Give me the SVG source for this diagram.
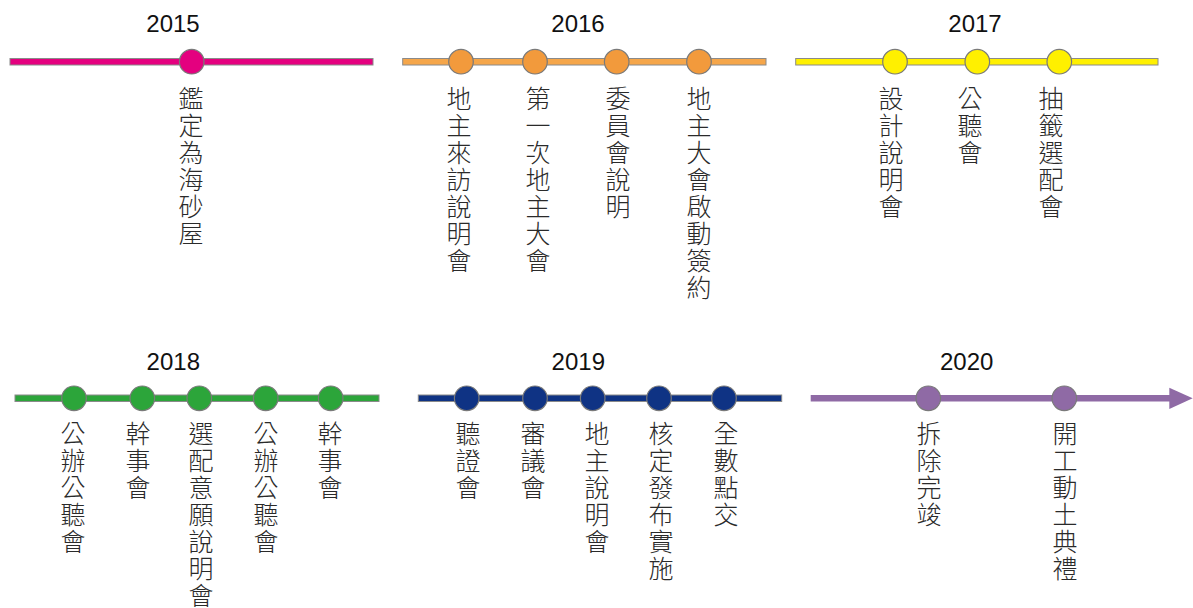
<svg xmlns="http://www.w3.org/2000/svg" width="1193" height="608" viewBox="0 0 1193 608">
<style>
.bar{stroke:#8a8a8a;stroke-width:1}
.dot{stroke:#7a7a7a;stroke-width:1.2}
.yr{font-family:"Liberation Sans",Arial,sans-serif;font-size:24px;fill:#111;text-anchor:middle}
.lbl{font-family:"Noto Sans CJK TC","Noto Sans CJK SC",sans-serif;font-size:25px;font-weight:300;fill:#2a2a2a;writing-mode:vertical-rl;text-orientation:upright;letter-spacing:2px}
.c15{fill:#E4007F}.c16{fill:#F29A3C}.c17{fill:#FFF000}.c18{fill:#2CA53A}.c19{fill:#0F3384}.c20{fill:#8F6AA5}
</style>
<rect width="1193" height="608" fill="#fff"/>
<g id="connectors">
<rect class="bar c15" x="10" y="58.5" width="363" height="6.5"/>
<rect class="bar" x="402.7" y="58.5" width="363.3" height="6.5" fill="#F5A64A"/>
<rect class="bar c17" x="795.7" y="58.5" width="362.3" height="6.5"/>
<rect class="bar c18" x="15" y="395" width="364" height="6.5"/>
<rect class="bar c19" x="418.3" y="395" width="363.4" height="6.5"/>
<rect class="c20" x="810.7" y="395" width="360" height="6.5"/>
<polygon class="c20" points="1169.3,387.7 1192.7,398.3 1169.3,409"/>
</g>
<g id="y2015">
<text class="yr" x="173" y="31.5">2015</text>
<circle class="dot c15" cx="191.7" cy="61.7" r="12.3"/>
<text class="lbl" x="191" y="86">鑑定為海砂屋</text>
</g>
<g id="y2016">
<text class="yr" x="578" y="31.5">2016</text>
<circle class="dot c16" cx="461" cy="61.7" r="12.3"/>
<circle class="dot c16" cx="535" cy="61.7" r="12.3"/>
<circle class="dot c16" cx="616.7" cy="61.7" r="12.3"/>
<circle class="dot c16" cx="699" cy="61.7" r="12.3"/>
<text class="lbl" x="459" y="86">地主來訪說明會</text>
<text class="lbl" x="538" y="86">第一次地主大會</text>
<text class="lbl" x="618" y="86">委員會說明</text>
<text class="lbl" x="699" y="86">地主大會啟動簽約</text>
</g>
<g id="y2017">
<text class="yr" x="975" y="31.5">2017</text>
<circle class="dot c17" cx="895" cy="61.7" r="12.3"/>
<circle class="dot c17" cx="977.3" cy="61.7" r="12.3"/>
<circle class="dot c17" cx="1059.3" cy="61.7" r="12.3"/>
<text class="lbl" x="891" y="86">設計說明會</text>
<text class="lbl" x="970" y="86">公聽會</text>
<text class="lbl" x="1051" y="86">抽籤選配會</text>
</g>
<g id="y2018">
<text class="yr" x="173.3" y="370">2018</text>
<circle class="dot c18" cx="74" cy="398.3" r="12.3"/>
<circle class="dot c18" cx="142.3" cy="398.3" r="12.3"/>
<circle class="dot c18" cx="199.3" cy="398.3" r="12.3"/>
<circle class="dot c18" cx="265.7" cy="398.3" r="12.3"/>
<circle class="dot c18" cx="330.7" cy="398.3" r="12.3"/>
<text class="lbl" x="73" y="421">公辦公聽會</text>
<text class="lbl" x="138" y="421">幹事會</text>
<text class="lbl" x="201" y="421">選配意願說明會</text>
<text class="lbl" x="266" y="421">公辦公聽會</text>
<text class="lbl" x="330" y="421">幹事會</text>
</g>
<g id="y2019">
<text class="yr" x="578.3" y="370">2019</text>
<circle class="dot c19" cx="466.7" cy="398.3" r="12.3"/>
<circle class="dot c19" cx="535" cy="398.3" r="12.3"/>
<circle class="dot c19" cx="592.7" cy="398.3" r="12.3"/>
<circle class="dot c19" cx="659" cy="398.3" r="12.3"/>
<circle class="dot c19" cx="724" cy="398.3" r="12.3"/>
<text class="lbl" x="468" y="421">聽證會</text>
<text class="lbl" x="533" y="421">審議會</text>
<text class="lbl" x="597" y="421">地主說明會</text>
<text class="lbl" x="661" y="421">核定發布實施</text>
<text class="lbl" x="726" y="421">全數點交</text>
</g>
<g id="y2020">
<text class="yr" x="966.7" y="370">2020</text>
<circle class="dot c20" cx="928.3" cy="398.3" r="12.3"/>
<circle class="dot c20" cx="1064.3" cy="398.3" r="12.3"/>
<text class="lbl" x="929" y="421">拆除完竣</text>
<text class="lbl" x="1065" y="421">開工動土典禮</text>
</g>
</svg>
